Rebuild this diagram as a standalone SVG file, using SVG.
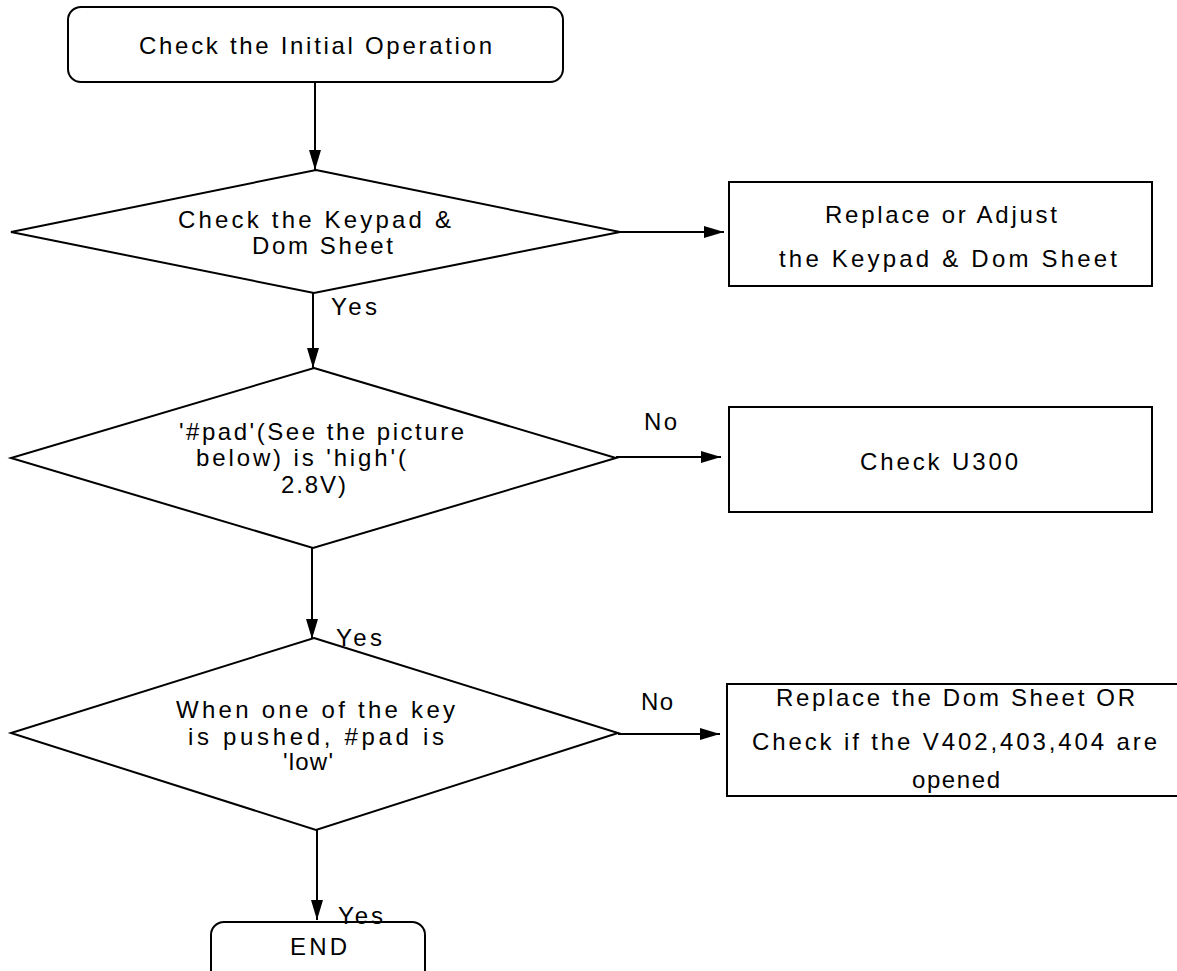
<svg xmlns="http://www.w3.org/2000/svg" width="1177" height="971" viewBox="0 0 1177 971">
<defs>
<style>
.shape{fill:#fff;stroke:#000;stroke-width:2}
.conn{fill:none;stroke:#000;stroke-width:2}
text{font-family:"Liberation Sans",Arial,sans-serif;font-size:24px;fill:#000}
</style>
<marker id="arr" markerUnits="userSpaceOnUse" markerWidth="22" markerHeight="14" refX="20" refY="6" orient="auto">
<path d="M0,0 L20,6 L0,12 z" fill="#000"/>
</marker>
</defs>
<rect width="1177" height="971" fill="#fff"/>
<g id="connectors">
<line class="conn" x1="315" y1="82" x2="315" y2="170" marker-end="url(#arr)"/>
<line class="conn" x1="620" y1="232" x2="724" y2="232" marker-end="url(#arr)"/>
<line class="conn" x1="313" y1="293" x2="313" y2="368" marker-end="url(#arr)"/>
<line class="conn" x1="616" y1="457" x2="721" y2="457" marker-end="url(#arr)"/>
<line class="conn" x1="312" y1="548" x2="312" y2="639" marker-end="url(#arr)"/>
<line class="conn" x1="618" y1="734" x2="720" y2="734" marker-end="url(#arr)"/>
<line class="conn" x1="317" y1="830" x2="317" y2="920" marker-end="url(#arr)"/>
</g>
<g id="start">
<rect class="shape" x="68" y="7" width="495" height="75" rx="13" ry="13"/>
<text x="139" y="54" textLength="353" lengthAdjust="spacing">Check the Initial Operation</text>
</g>
<g id="decision1">
<polygon class="shape" points="316,170 620,232 314,293 11,232"/>
<text x="178" y="228" textLength="273" lengthAdjust="spacing">Check the Keypad &amp;</text>
<text x="252" y="254" textLength="141" lengthAdjust="spacing">Dom Sheet</text>
</g>
<g id="box1">
<rect class="shape" x="729" y="182" width="423" height="104"/>
<text x="825" y="223" textLength="232" lengthAdjust="spacing">Replace or Adjust</text>
<text x="779" y="267" textLength="338" lengthAdjust="spacing">the Keypad &amp; Dom Sheet</text>
</g>
<g id="decision2">
<polygon class="shape" points="314,368 616,458 313,548 11,458"/>
<text x="179" y="440" textLength="285" lengthAdjust="spacing">'#pad'(See the picture</text>
<text x="196" y="466" textLength="210" lengthAdjust="spacing">below) is 'high'(</text>
<text x="281" y="493" textLength="65" lengthAdjust="spacing">2.8V)</text>
</g>
<g id="box2">
<rect class="shape" x="729" y="407" width="423" height="105"/>
<text x="860" y="470" textLength="158" lengthAdjust="spacing">Check U300</text>
</g>
<g id="decision3">
<polygon class="shape" points="314,638 618,733 316,830 11,733"/>
<text x="176" y="718" textLength="279" lengthAdjust="spacing">When one of the key</text>
<text x="188" y="745" textLength="256" lengthAdjust="spacing">is pushed,  #pad is</text>
<text x="283" y="770" textLength="50" lengthAdjust="spacing">'low'</text>
</g>
<g id="box3">
<rect class="shape" x="727" y="684" width="470" height="112"/>
<text x="776" y="706" textLength="359" lengthAdjust="spacing">Replace the Dom Sheet OR</text>
<text x="752" y="750" textLength="405" lengthAdjust="spacing">Check if the V402,403,404 are</text>
<text x="912" y="788" textLength="88" lengthAdjust="spacing">opened</text>
</g>
<g id="end">
<rect class="shape" x="211" y="922" width="214" height="72" rx="13" ry="13"/>
<text x="290" y="955" textLength="57" lengthAdjust="spacing">END</text>
</g>
<g id="labels">
<text x="331" y="315" textLength="46" lengthAdjust="spacing">Yes</text>
<text x="644" y="430" textLength="33" lengthAdjust="spacing">No</text>
<text x="336" y="646" textLength="46" lengthAdjust="spacing">Yes</text>
<text x="641" y="710" textLength="32" lengthAdjust="spacing">No</text>
<text x="338" y="924" textLength="45" lengthAdjust="spacing">Yes</text>
</g>
</svg>
